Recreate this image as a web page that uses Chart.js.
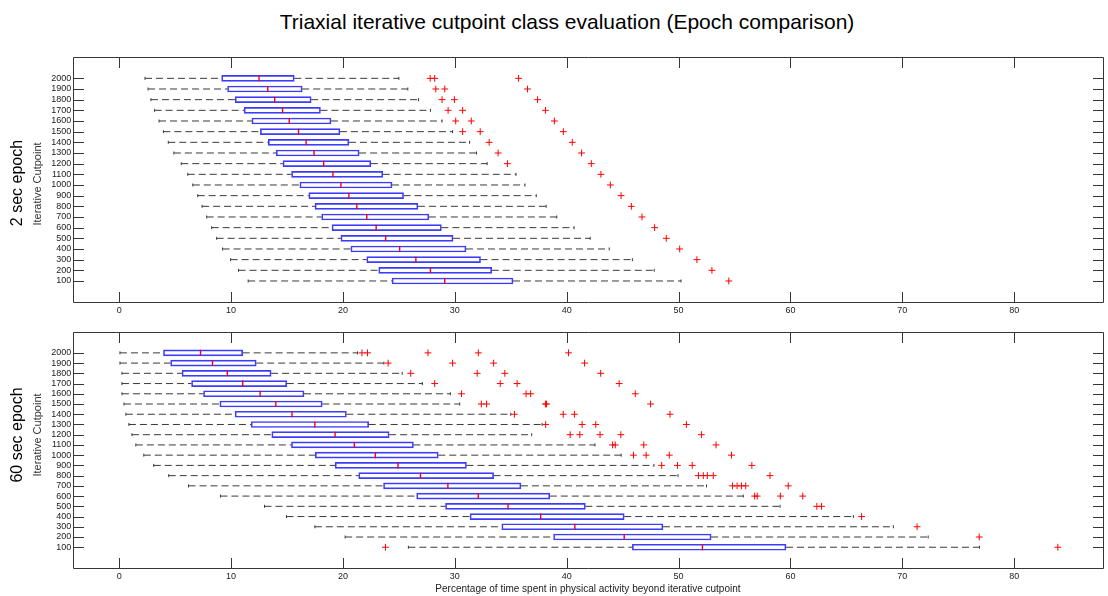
<!DOCTYPE html>
<html>
<head>
<meta charset="utf-8">
<script src="https://cdn.jsdelivr.net/npm/chart.js@4/dist/chart.umd.min.js"></script>
<style>
  html, body { margin: 0; padding: 0; background: #fff; }
  #wrap { position: relative; width: 1108px; height: 596px; overflow: hidden; background: #fff; }
  #title { position: absolute; left: 0; top: 11px; width: 1134px; text-align: center;
           font: 21px "Liberation Sans", Arial, sans-serif; color: #000; white-space: nowrap; line-height: 21px; }
  canvas { position: absolute; left: 0; }
  #chart2s { top: 0; }
  #chart60s { top: 325px; }
</style>
</head>
<body>
<div id="wrap">
  <div id="title">Triaxial iterative cutpoint class evaluation (Epoch comparison)</div>
  <canvas id="chart2s" width="1108" height="325"></canvas>
  <canvas id="chart60s" width="1108" height="271"></canvas>
</div>
<script>
// Iterative cutpoints (rows of each panel, bottom to top)
const cutpoints = [100, 200, 300, 400, 500, 600, 700, 800, 900, 1000,
                   1100, 1200, 1300, 1400, 1500, 1600, 1700, 1800, 1900, 2000];
const cutpointLabels = cutpoints.map(String);
const xTickValues = [0, 10, 20, 30, 40, 50, 60, 70, 80];

// 2 sec epoch: box-plot summaries (% time above cutpoint), one entry per cutpoint
const epoch2Low    = [11.53, 10.67, 9.96, 9.24, 8.71, 8.27, 7.82, 7.41, 7.02, 6.58,
                      6.13, 5.55, 4.89, 4.39, 3.95, 3.56, 3.17, 2.84, 2.58, 2.31];
const epoch2Q1     = [24.39, 23.2, 22.13, 20.71, 19.82, 19.02, 18.1, 17.51, 16.95, 16.15,
                      15.41, 14.64, 14.04, 13.33, 12.62, 11.86, 11.17, 10.37, 9.69, 9.16];
const epoch2Median = [29.1, 27.82, 26.52, 25.07, 23.82, 22.97, 22.13, 21.24, 20.53, 19.82,
                      19.11, 18.28, 17.42, 16.71, 16.03, 15.2, 14.6, 13.9, 13.28, 12.5];
const epoch2Q3     = [35.2, 33.3, 32.3, 31.0, 29.84, 28.8, 27.68, 26.7, 25.42, 24.39,
                      23.56, 22.49, 21.45, 20.53, 19.73, 18.93, 17.99, 17.16, 16.36, 15.65];
const epoch2High   = [50.22, 47.82, 45.87, 43.8, 42.1, 40.66, 39.11, 38.17, 37.28, 36.27,
                      35.47, 32.89, 31.94, 31.32, 29.8, 28.86, 27.82, 26.76, 25.8, 25.0];
const epoch2Outliers = [
  [54.49], [52.98], [51.64], [50.1], [48.9], [47.86], [46.73], [45.78], [44.86], [43.9],
  [43.06], [34.7, 42.2], [33.87, 41.33], [33.07, 40.5], [30.7, 32.27, 39.7],
  [30.08, 31.47, 38.9], [29.4, 30.7, 38.1], [28.86, 29.96, 37.4], [28.3, 29.1, 36.5],
  [27.8, 28.2, 35.7]
];

// 60 sec epoch: box-plot summaries
const epoch60Low    = [25.85, 20.2, 17.49, 14.95, 12.99, 9.05, 6.2, 4.43, 3.09, 2.2,
                       1.49, 1.14, 0.87, 0.6, 0.43, 0.25, 0.25, 0.25, 0.07, 0.07];
const epoch60Q1     = [45.87, 38.83, 34.2, 31.36, 29.17, 26.59, 23.63, 21.41, 19.31, 17.53,
                       15.4, 13.64, 11.8, 10.36, 9.0, 7.54, 6.47, 5.62, 4.6, 3.96];
const epoch60Median = [52.13, 45.14, 40.73, 37.67, 34.76, 32.1, 29.38, 26.93, 24.92, 22.9,
                       21.02, 19.3, 17.49, 15.45, 14.0, 12.6, 11.04, 9.67, 8.34, 7.27];
const epoch60Q3     = [59.6, 52.91, 48.6, 45.14, 41.67, 38.49, 35.91, 33.47, 31.04, 28.52,
                       26.3, 24.13, 22.3, 20.31, 18.15, 16.52, 14.98, 13.58, 12.25, 11.04];
const epoch60High   = [76.9, 72.31, 69.2, 65.62, 59.07, 55.78, 52.5, 49.95, 47.8, 44.87,
                       42.53, 36.87, 37.8, 35.0, 30.44, 29.6, 27.1, 25.3, 23.66, 21.3];
const epoch60Outliers = [
  [23.8, 83.9], [76.87], [71.32], [66.36], [62.36, 62.78],
  [56.8, 57.03, 59.1, 61.1], [54.82, 55.23, 55.62, 56.0, 59.8],
  [51.77, 52.21, 52.57, 53.1, 58.17], [48.49, 49.9, 51.22, 56.55],
  [45.97, 47.1, 49.17, 54.73], [44.1, 44.34, 46.89, 53.35],
  [40.31, 41.17, 42.98, 44.84, 52.04], [38.12, 41.38, 42.6, 50.7],
  [35.33, 39.69, 40.69, 49.23], [32.37, 32.84, 38.1, 38.2, 47.5],
  [30.6, 36.37, 36.78, 46.13], [28.2, 34.06, 35.57, 44.69],
  [26.06, 32.0, 34.47, 43.04], [24.04, 29.8, 33.47, 41.6],
  [21.7, 22.2, 27.6, 32.1, 40.16]
];

const FONT = '"Liberation Sans", Arial, sans-serif';
const BOX_BLUE = '#3c3cff';
const MEDIAN_RED = '#ff0000';
const WHISKER = '#3a3a3a';

// Axes box with inward tick marks on all four sides (MATLAB style)
const axesFrame = {
  id: 'axesFrame',
  afterDatasetsDraw(chart, args, opts) {
    const { ctx, chartArea, scales } = chart;
    const L = Math.round(chartArea.left) + 0.5, R = Math.round(chartArea.right) + 0.5;
    const T = Math.round(chartArea.top) + 0.5, B = Math.round(chartArea.bottom) + 0.5;
    const len = opts.tickLength;
    ctx.save();
    ctx.strokeStyle = opts.color;
    ctx.lineWidth = 1;
    ctx.beginPath();
    ctx.rect(L, T, R - L, B - T);
    scales.x.ticks.forEach(t => {
      const p = Math.round(scales.x.getPixelForValue(t.value)) + 0.5;
      ctx.moveTo(p, B); ctx.lineTo(p, B - len);
      ctx.moveTo(p, T); ctx.lineTo(p, T + len);
    });
    scales.y.ticks.forEach(t => {
      const p = Math.round(scales.y.getPixelForValue(t.value)) + 0.5;
      ctx.moveTo(L, p); ctx.lineTo(L + len, p);
      ctx.moveTo(R, p); ctx.lineTo(R - len, p);
    });
    ctx.stroke();
    ctx.restore();
  }
};

// Rotated panel name and y-axis caption at the left of each panel
const sideLabels = {
  id: 'sideLabels',
  afterDraw(chart, args, opts) {
    const { ctx } = chart;
    const put = (text, x, y, font, color) => {
      ctx.save();
      ctx.translate(x, y);
      ctx.rotate(-Math.PI / 2);
      ctx.font = font;
      ctx.fillStyle = color;
      ctx.textAlign = 'center';
      ctx.textBaseline = 'middle';
      ctx.fillText(text, 0, 0);
      ctx.restore();
    };
    put(opts.name, opts.nameX, opts.nameY, '16px ' + FONT, '#000');
    put(opts.caption, opts.captionX, opts.captionY, '11px ' + FONT, '#333');
  }
};

function boxDatasets(low, q1, med, q3, high, outliers) {
  const whiskers = [], caps = [], boxes = [], medians = [], outs = [];
  cutpoints.forEach((c, i) => {
    whiskers.push({ x: low[i], y: c }, { x: q1[i], y: c }, { x: null, y: c },
                  { x: q3[i], y: c }, { x: high[i], y: c }, { x: null, y: c });
    caps.push({ x: low[i], y: c }, { x: high[i], y: c });
    boxes.push({ x: [q1[i], q3[i]], y: c });
    medians.push({ x: med[i], y: c });
    outliers[i].forEach(v => outs.push({ x: v, y: c }));
  });
  return [
    { type: 'scatter', data: medians, pointStyle: 'line', rotation: 90, radius: 3,
      borderColor: MEDIAN_RED, backgroundColor: MEDIAN_RED, borderWidth: 1.4, order: 0 },
    { type: 'scatter', data: outs, pointStyle: 'cross', radius: 3.4,
      borderColor: MEDIAN_RED, backgroundColor: MEDIAN_RED, borderWidth: 1, order: 0 },
    { type: 'bar', data: boxes, barThickness: 6, borderColor: BOX_BLUE,
      backgroundColor: 'rgba(0,0,0,0)', borderWidth: 1, borderSkipped: false, order: 1 },
    { type: 'line', data: whiskers, borderColor: WHISKER, borderWidth: 1,
      borderDash: [7, 4], pointRadius: 0, spanGaps: false, fill: false, order: 2 },
    { type: 'scatter', data: caps, pointStyle: 'line', rotation: 90, radius: 1.5,
      borderColor: WHISKER, backgroundColor: WHISKER, borderWidth: 1, order: 2 }
  ];
}

function makePanel(canvasId, datasets, cfg) {
  const tickFont = { size: 9, family: FONT };
  return new Chart(document.getElementById(canvasId), {
    type: 'bar',
    data: { datasets },
    options: {
      indexAxis: 'y',
      responsive: false,
      animation: false,
      events: [],
      layout: { padding: { top: cfg.padTop, left: 0, right: 0, bottom: 0 } },
      plugins: {
        legend: { display: false },
        tooltip: { enabled: false },
        axesFrame: { color: '#363636', tickLength: 10.5 },
        sideLabels: cfg.side
      },
      scales: {
        x: {
          type: 'linear', min: -4.1, max: 87.9, offset: false,
          grid: { display: false, drawTicks: false },
          border: { display: false },
          ticks: { font: tickFont, color: '#222', padding: 3, maxRotation: 0,
                   callback: v => String(v) },
          afterBuildTicks: s => { s.ticks = xTickValues.map(v => ({ value: v })); },
          afterFit: s => { s.height = cfg.xAxisHeight; },
          title: cfg.xTitle ? { display: true, text: cfg.xTitle, color: '#222',
                   font: { size: 10, family: FONT }, padding: { top: 0, bottom: 1 } }
                 : { display: false }
        },
        y: {
          type: 'linear', min: -100, max: 2200, offset: false,
          grid: { display: false, drawTicks: false },
          border: { display: false },
          ticks: { font: tickFont, color: '#222', padding: 2, autoSkip: false,
                   callback: v => cutpointLabels[cutpoints.indexOf(v)] ?? '' },
          afterBuildTicks: s => { s.ticks = cutpoints.map(v => ({ value: v })); },
          afterFit: s => { s.width = 73.3; }
        }
      }
    },
    plugins: [axesFrame, sideLabels]
  });
}

makePanel('chart2s',
  boxDatasets(epoch2Low, epoch2Q1, epoch2Median, epoch2Q3, epoch2High, epoch2Outliers),
  { padTop: 57, xAxisHeight: 22.7,
    side: { name: '2 sec epoch', nameX: 18, nameY: 183,
            caption: 'Iterative Cutpoint', captionX: 38, captionY: 184 } });

makePanel('chart60s',
  boxDatasets(epoch60Low, epoch60Q1, epoch60Median, epoch60Q3, epoch60High, epoch60Outliers),
  { padTop: 4.3, xAxisHeight: 28.3,
    xTitle: 'Percentage of time spent in physical activity beyond iterative cutpoint',
    side: { name: '60 sec epoch', nameX: 18, nameY: 110,
            caption: 'Iterative Cutpoint', captionX: 38, captionY: 110 } });
</script>
</body>
</html>
